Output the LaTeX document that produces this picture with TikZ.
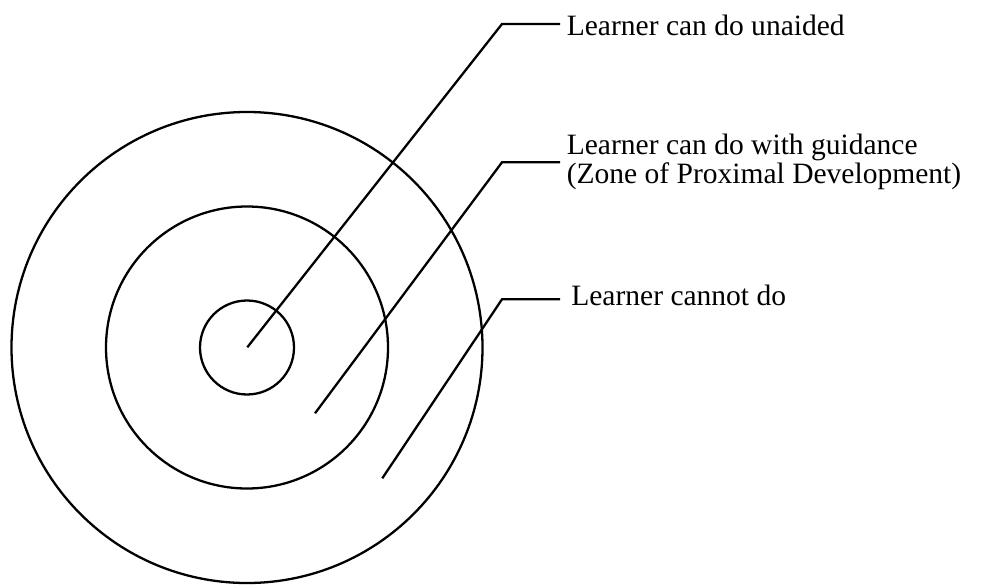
\documentclass[tikz,border=0pt]{standalone}
\usepackage{fontspec}
\setmainfont{Liberation Serif}
\tikzset{
  zone/.style={line width=1.3pt},
  leader/.style={line width=1.3pt},
  zonelabel/.style={anchor=base west,inner sep=0pt,font=\fontsize{16.8}{15.2}\selectfont,align=left}
}
\begin{document}
\begin{tikzpicture}[x=0.02cm,y=-0.02cm]
  \useasboundingbox (0,0) rectangle (1001,585);

  % circles
  \coordinate (ctr) at (247,347.5);
  \draw[zone] (ctr) circle (47);
  \draw[zone] (ctr) circle (141);
  \draw[zone] (ctr) circle (235.5);

  % labels
  \node[zonelabel] (unaided) at (566.5,35) {Learner can do unaided};
  \node[zonelabel] (guided) at (566.5,183.3) {Learner can do with guidance\\(Zone of Proximal Development)};
  \node[zonelabel] (cannot) at (571,305) {Learner cannot do};

  % leaders
  \coordinate (p1) at (247.3,347.3);
  \coordinate (k1) at (502,24);
  \coordinate (h1) at (560,24);
  \coordinate (p2) at (315,413.3);
  \coordinate (k2) at (502,162.3);
  \coordinate (h2) at (560,162.3);
  \coordinate (p3) at (382.3,478.3);
  \coordinate (k3) at (502,299.3);
  \coordinate (h3) at (560,299.3);
  \draw[leader] (p1) -- (k1) -- (h1);
  \draw[leader] (p2) -- (k2) -- (h2);
  \draw[leader] (p3) -- (k3) -- (h3);
\end{tikzpicture}
\end{document}
